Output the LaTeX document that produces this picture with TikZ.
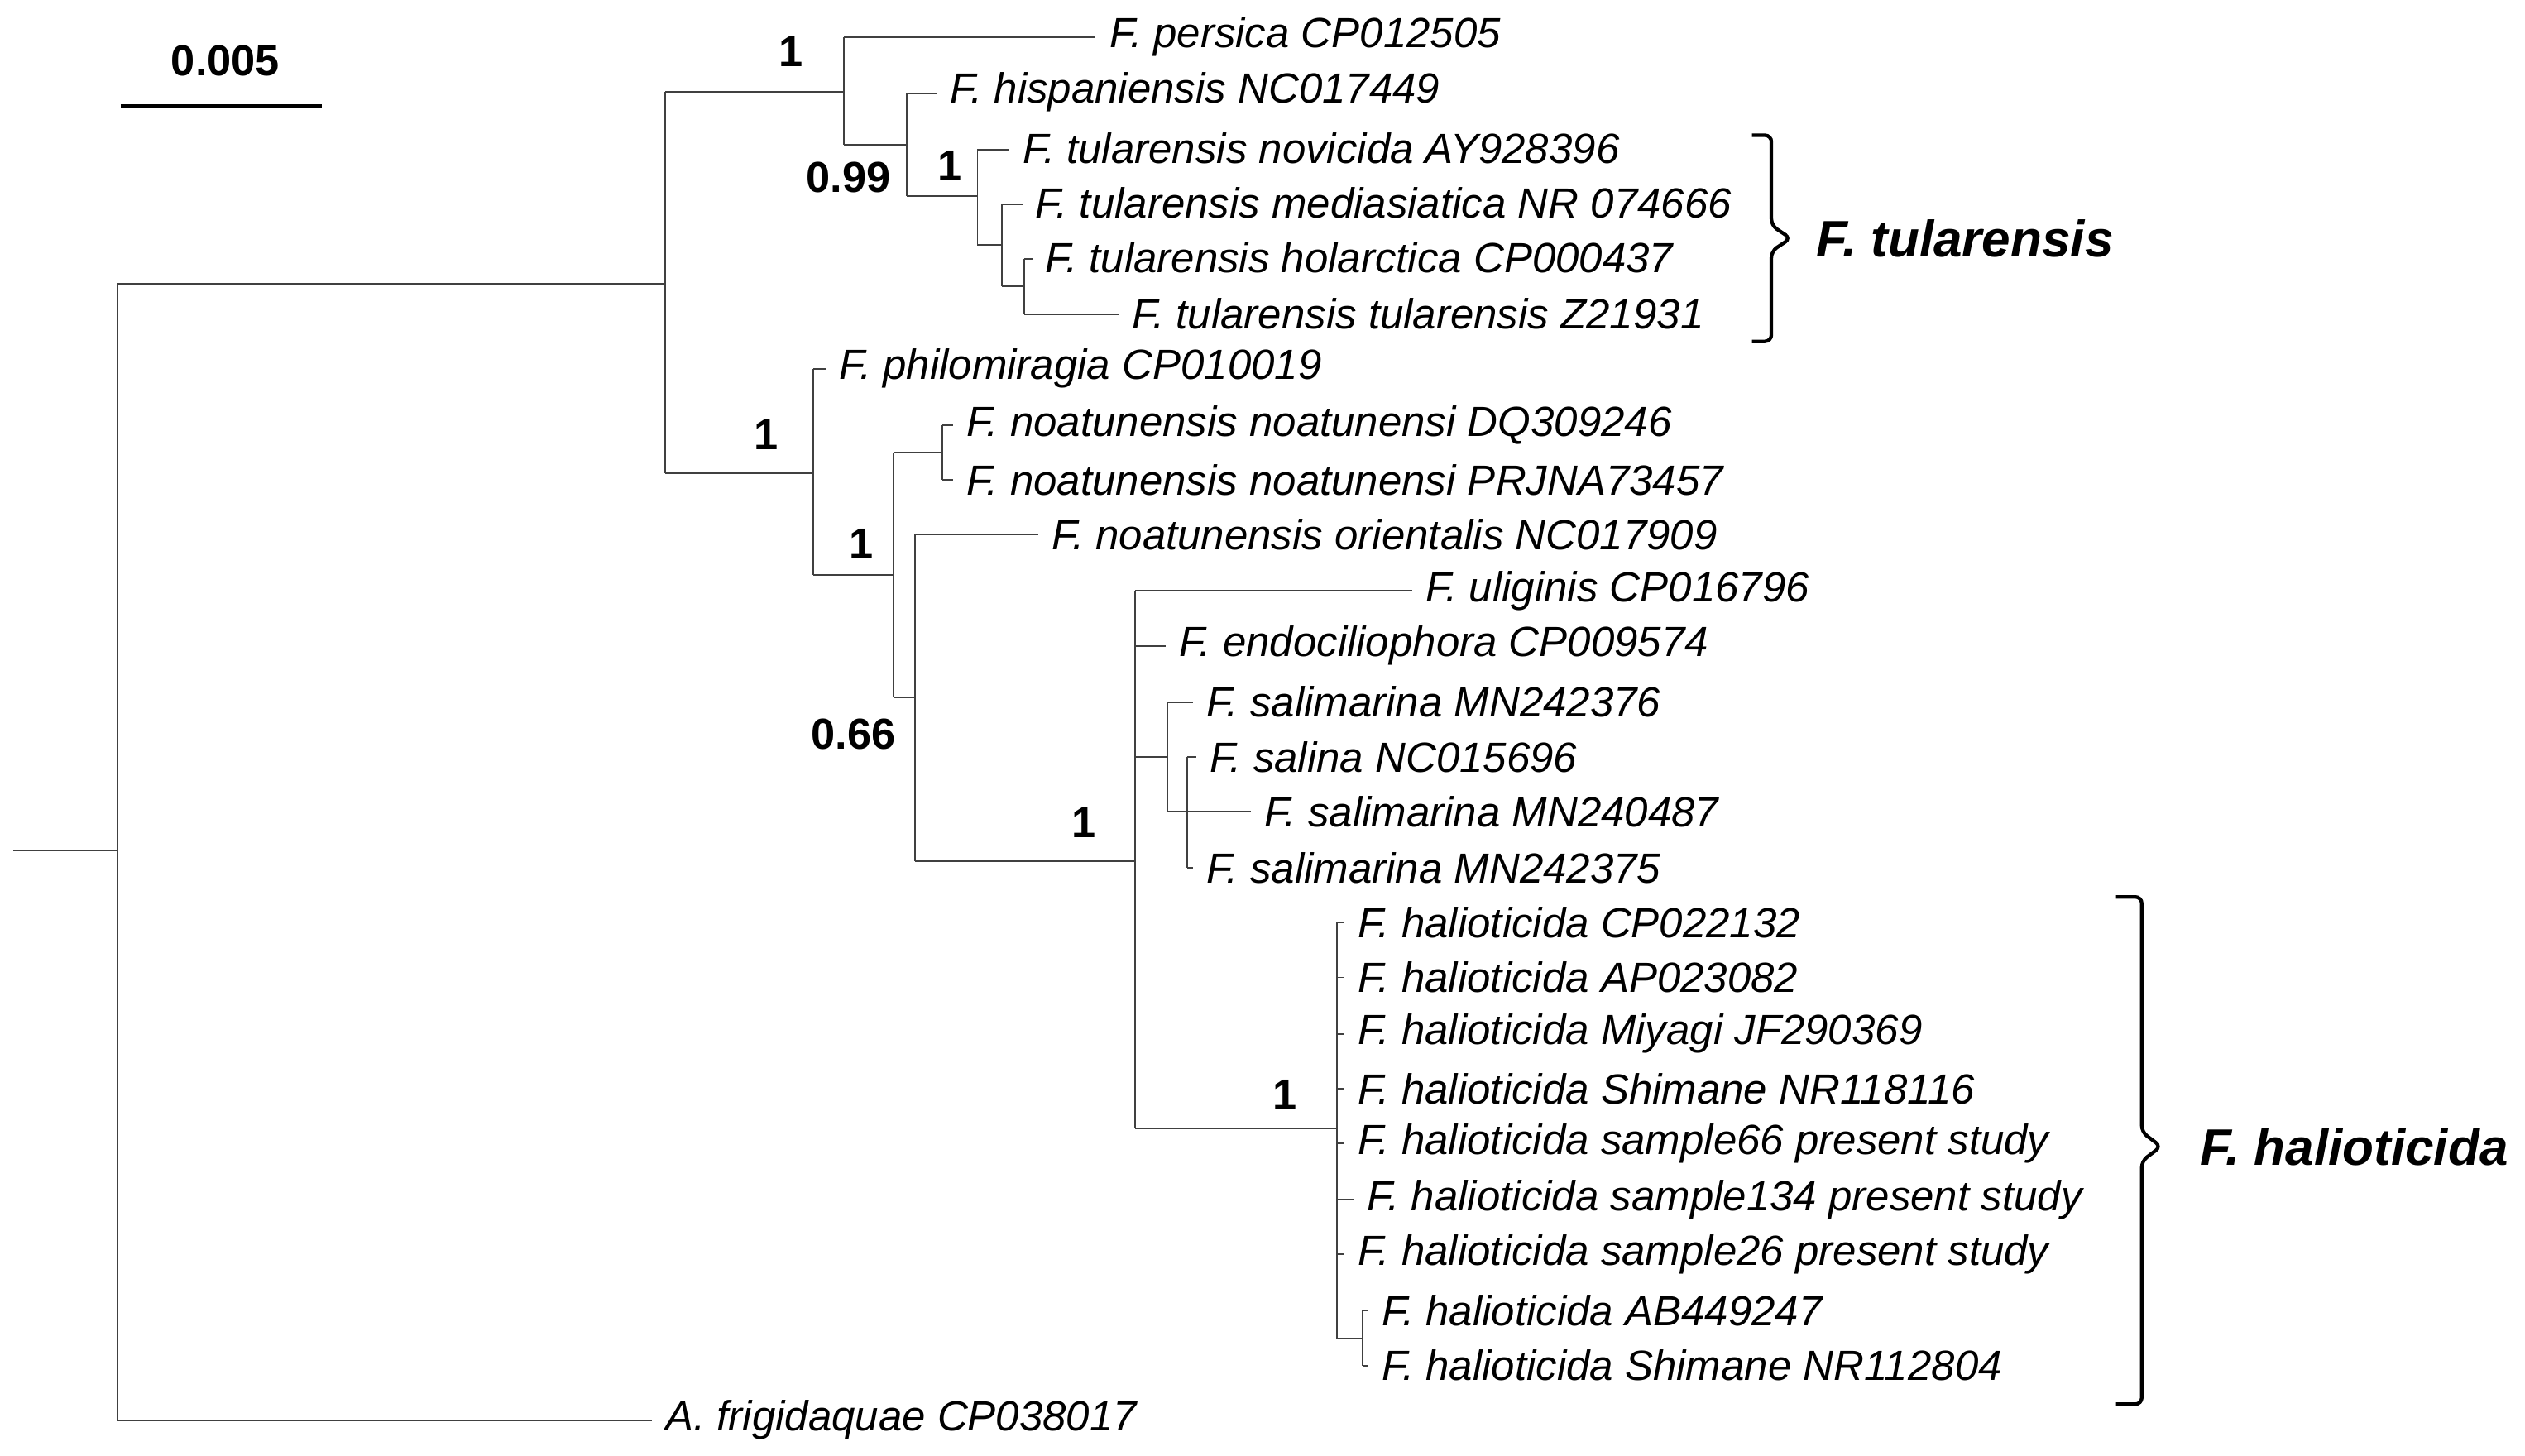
\documentclass[tikz,border=0pt]{standalone}
\usepackage{fontspec}
\setmainfont{Liberation Sans}
\begin{document}
\begin{tikzpicture}[x=1bp,y=-1bp,
  br/.style={line width=1bp,black!75},
  tip/.style={anchor=west,inner sep=0,font=\fontsize{26.3}{28}\selectfont\itshape},
  sup/.style={font=\fontsize{27}{29}\selectfont\bfseries,inner sep=0},
  brk/.style={line width=2.2bp,rounded corners=4bp}]
\useasboundingbox (0,0) rectangle (1568,904);
% scale bar
\draw[line width=2.5bp] (75,66) -- (200,66);
\node[sup] (sc) at (140,38) {0.005};
% root
\draw[br] (8,528) -- (73,528);
\draw[br] (73,176) -- (73,882);
\draw[br] (73,882) -- (405,882);
\draw[br] (73,176) -- (413,176);
\draw[br] (413,57) -- (413,294);
% top clade
\draw[br] (413,57) -- (524,57);
\draw[br] (524,23) -- (524,90);
\draw[br] (524,23) -- (680,23);
\draw[br] (524,90) -- (563,90);
\draw[br] (563,58) -- (563,122);
\draw[br] (563,58) -- (582,58);
\draw[br] (563,122) -- (607,122);
\draw[br] (607,93) -- (607,152);
\draw[br] (607,93) -- (627,93);
\draw[br] (607,152) -- (622,152);
\draw[br] (622,127) -- (622,178);
\draw[br] (622,127) -- (635,127);
\draw[br] (622,178) -- (636,178);
\draw[br] (636,161) -- (636,195);
\draw[br] (636,161) -- (641,161);
\draw[br] (636,195) -- (695,195);
% lower clade
\draw[br] (413,294) -- (505,294);
\draw[br] (505,229) -- (505,357);
\draw[br] (505,229) -- (513,229);
\draw[br] (505,357) -- (555,357);
\draw[br] (555,281) -- (555,433);
\draw[br] (555,281) -- (585,281);
\draw[br] (585,264) -- (585,298);
\draw[br] (585,264) -- (592,264);
\draw[br] (585,298) -- (592,298);
\draw[br] (555,433) -- (568,433);
\draw[br] (568,332) -- (568,535);
\draw[br] (568,332) -- (645,332);
\draw[br] (568,535) -- (705,535);
\draw[br] (705,367) -- (705,701);
\draw[br] (705,367) -- (877,367);
\draw[br] (705,401) -- (724,401);
\draw[br] (705,470) -- (725,470);
\draw[br] (725,436) -- (725,504);
\draw[br] (725,436) -- (741,436);
\draw[br] (725,504) -- (737,504);
\draw[br] (737,470) -- (737,539);
\draw[br] (737,470) -- (743,470);
\draw[br] (737,504) -- (777,504);
\draw[br] (737,539) -- (741,539);
\draw[br] (705,701) -- (830,701);
\draw[br] (830,573) -- (830,831);
\foreach \y in {573,607,642,676,710,779} \draw[br] (830,\y) -- (835,\y);
\draw[br] (830,745) -- (841,745);
\draw[br] (830,831) -- (846,831);
\draw[br] (846,814) -- (846,848);
\draw[br] (846,814) -- (850,814);
\draw[br] (846,848) -- (850,848);
% tip labels
\node[tip] (t1) at (689,23) {F. persica CP012505};
\node[tip] (t2) at (590,57) {F. hispaniensis NC017449};
\node[tip] (t3) at (635,92) {F. tularensis novicida AY928396};
\node[tip] (t4) at (643,126) {F. tularensis mediasiatica NR 074666};
\node[tip] (t5) at (649,160) {F. tularensis holarctica CP000437};
\node[tip] (t6) at (703,195) {F. tularensis tularensis Z21931};
\node[tip] (t7) at (521,229) {F. philomiragia CP010019};
\node[tip] (t8) at (600,264) {F. noatunensis noatunensi DQ309246};
\node[tip] (t9) at (600,298) {F. noatunensis noatunensi PRJNA73457};
\node[tip] (t10) at (653,332) {F. noatunensis orientalis NC017909};
\node[tip] (t11) at (885,367) {F. uliginis CP016796};
\node[tip] (t12) at (732,401) {F. endociliophora CP009574};
\node[tip] (t13) at (749,436) {F. salimarina MN242376};
\node[tip] (t14) at (751,470) {F. salina NC015696};
\node[tip] (t15) at (785,504) {F. salimarina MN240487};
\node[tip] (t16) at (749,539) {F. salimarina MN242375};
\node[tip] (t17) at (843,573) {F. halioticida CP022132};
\node[tip] (t18) at (843,607) {F. halioticida AP023082};
\node[tip] (t19) at (843,642) {F. halioticida Miyagi JF290369};
\node[tip] (t20) at (843,676) {F. halioticida Shimane NR118116};
\node[tip] (t21) at (843,710) {F. halioticida sample66 present study};
\node[tip] (t22) at (849,745) {F. halioticida sample134 present study};
\node[tip] (t23) at (843,779) {F. halioticida sample26 present study};
\node[tip] (t24) at (858,814) {F. halioticida AB449247};
\node[tip] (t25) at (858,848) {F. halioticida Shimane NR112804};
\node[tip] (t26) at (413,882) {A. frigidaquae CP038017};
% support values
\node[sup] (s1) at (491,32) {1};
\node[sup] (s2) at (527,110) {0.99};
\node[sup] (s3) at (590,103) {1};
\node[sup] (s4) at (476,270) {1};
\node[sup] (s5) at (535,338) {1};
\node[sup] (s6) at (530,456) {0.66};
\node[sup] (s7) at (673,511) {1};
\node[sup] (s8) at (798,680) {1};
% brackets
\draw[brk] (1088,84) -- (1100,84) -- (1100,140) -- (1112,148) -- (1100,156) -- (1100,212) -- (1088,212);
\node[anchor=west,inner sep=0,font=\fontsize{32}{34}\selectfont\bfseries\itshape] (gt) at (1128,148) {F. tularensis};
\draw[brk] (1314,557) -- (1330,557) -- (1330,703) -- (1342,712) -- (1330,721) -- (1330,872) -- (1314,872);
\node[anchor=west,inner sep=0,font=\fontsize{32}{34}\selectfont\bfseries\itshape] (gh) at (1366,712) {F. halioticida};
\end{tikzpicture}
\end{document}
